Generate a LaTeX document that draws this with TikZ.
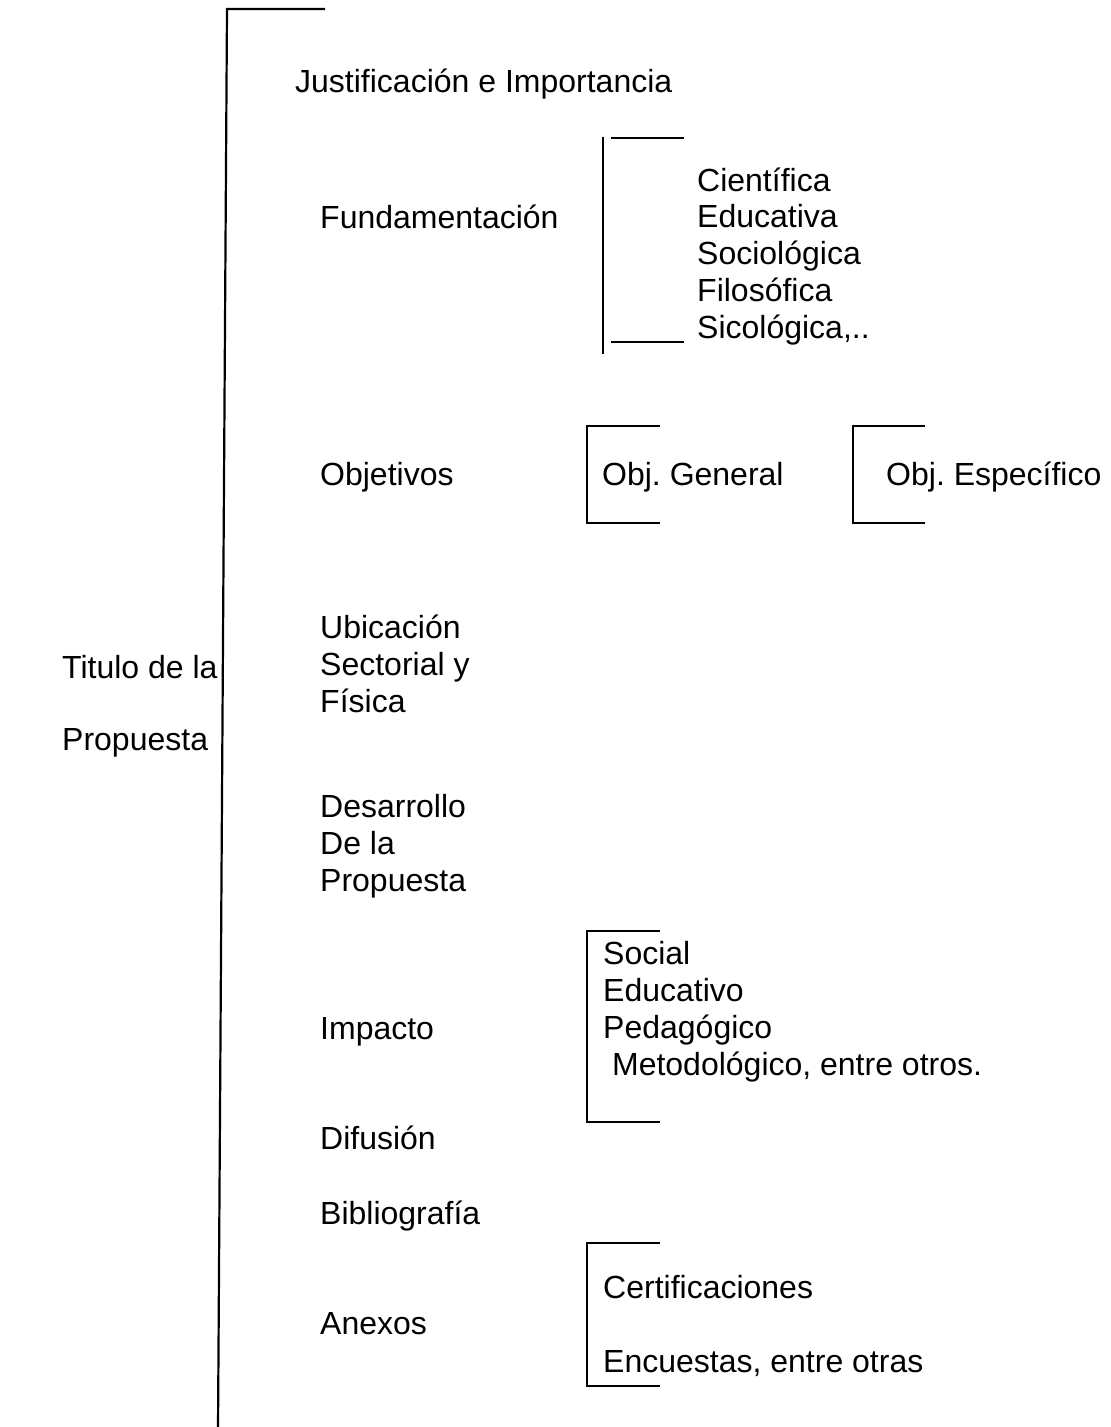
\documentclass[tikz,border=0pt]{standalone}
\usepackage{fontspec}
\setmainfont{Liberation Sans}
\frenchspacing
\begin{document}
\begin{tikzpicture}[x=1pt,y=-1pt,
  % multi-line labels are placed by the baseline of their last line
  lbl/.style={anchor=base west,inner sep=0pt,align=left,
    font=\fontsize{32}{36.7}\selectfont},
  rule/.style={line width=2.2pt,line cap=butt},
  brk/.style={line width=2pt}]
\useasboundingbox (0,0) rectangle (1111,1427);

% main bracket of the outline
\coordinate (mtop) at (325,9);
\coordinate (mcorner) at (227,9);
\coordinate (mbot) at (218,1430);
\draw[rule] (mtop) -- (mcorner) -- (mbot);

% title
\node[lbl] (titulo) at (62,678) {Titulo de la};
\node[lbl] (propuesta) at (62,750) {Propuesta};

% first-level items
\node[lbl] (just) at (295,92) {Justificación e Importancia};
\node[lbl] (fund) at (320,228) {Fundamentación};
\node[lbl] (obj) at (320,485) {Objetivos};
\node[lbl] (ubic) at (320,712) {Ubicación\\Sectorial y\\Física};
\node[lbl] (desa) at (320,891) {Desarrollo\\De la\\Propuesta};
\node[lbl] (imp) at (320,1039) {Impacto};
\node[lbl] (dif) at (320,1149) {Difusión};
\node[lbl] (bib) at (320,1224) {Bibliografía};
\node[lbl] (anex) at (320,1334) {Anexos};

% Fundamentación
\draw[brk] (603,137) -- (603,354);
\draw[brk] (611,138) -- (684,138);
\draw[brk] (611,342) -- (684,342);
\node[lbl] (tipos) at (697,338) {Científica\\Educativa\\Sociológica\\Filosófica\\Sicológica,..};

% Objetivos
\draw[brk] (660,426) -- (587,426) -- (587,523) -- (660,523);
\node[lbl] (ogen) at (602,485) {Obj. General};
\draw[brk] (925,426) -- (853,426) -- (853,523) -- (925,523);
\node[lbl] (oesp) at (886,485) {Obj. Específico};

% Impacto
\draw[brk] (660,931) -- (587,931) -- (587,1122) -- (660,1122);
\node[lbl] (imps) at (603,1075) {Social\\Educativo\\Pedagógico\\\ Metodológico, entre otros.};

% Anexos
\draw[brk] (660,1243) -- (587,1243) -- (587,1386) -- (660,1386);
\node[lbl] (cert) at (603,1298) {Certificaciones};
\node[lbl] (encu) at (603,1372) {Encuestas, entre otras};
\end{tikzpicture}
\end{document}
